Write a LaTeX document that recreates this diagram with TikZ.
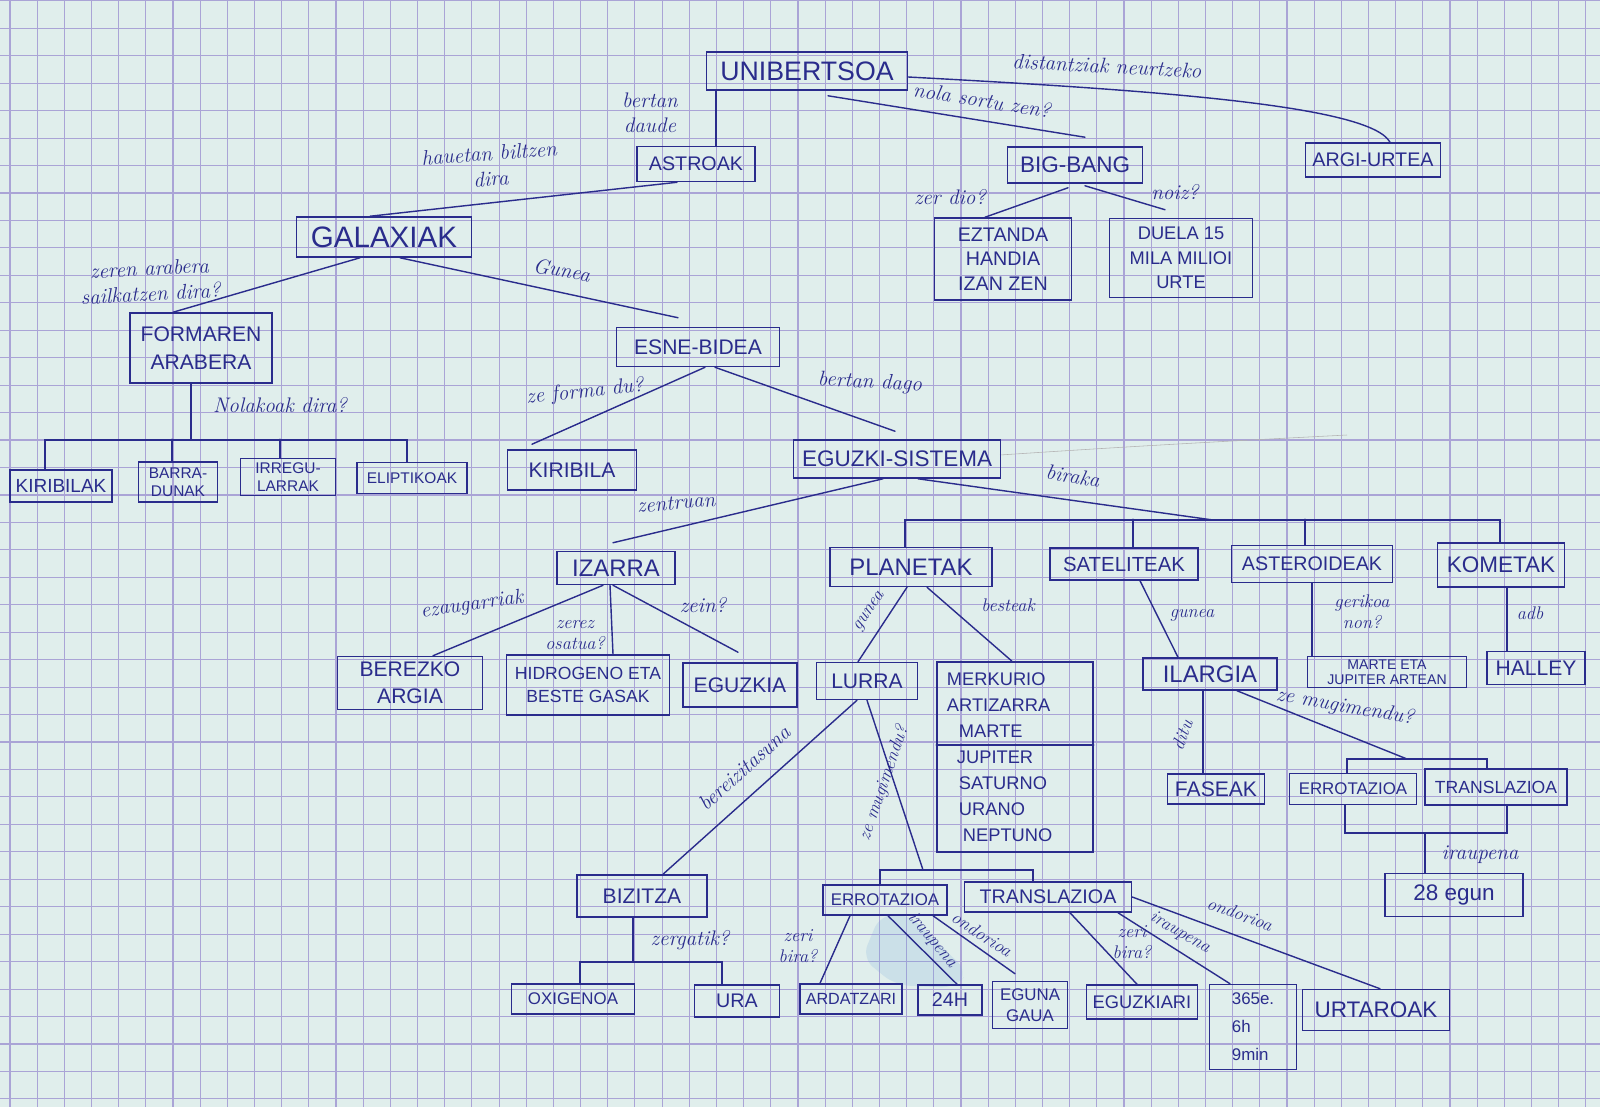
\documentclass[tikz,border=0pt]{standalone}
\usepackage{fontspec}
\newfontfamily\handfont{Liberation Sans}
\usetikzlibrary{calc}
\definecolor{ink}{RGB}{42,44,140}
\definecolor{paper}{RGB}{224,238,236}
\definecolor{gridc}{RGB}{170,164,214}
\definecolor{smear}{RGB}{110,165,215}
\tikzset{
  box/.style={draw=ink, line width=1.1pt, text=ink, inner sep=1pt, align=center},
  dims/.style 2 args={minimum width=#1*0.025cm, minimum height=#2*0.025cm},
  fs/.style 2 args={font={\handfont\fontsize{#1}{#2}\selectfont}},
  lbl/.style={text=ink, inner sep=0pt, align=center, font={\itshape\fontsize{15}{18}\selectfont}},
  lsmall/.style={font={\itshape\fontsize{13}{15}\selectfont}},
  conn/.style={draw=ink, line width=1pt, line cap=round},
  gridline/.style={draw=gridc, line width=0.8pt}
}
\begin{document}
\begin{tikzpicture}[x=0.025cm, y=-0.025cm]
\fill[paper] (0,0) rectangle (1600,1107);
\useasboundingbox (0,0) rectangle (1600,1107);
\foreach \i in {0,...,58} \draw[gridline] ({10+27.17*\i},0) -- ({10+27.17*\i},1107);
\foreach \j in {-1,...,39} \draw[gridline] (0,{28.3+27.45*\j}) -- (1600,{28.3+27.45*\j});

\fill[smear, opacity=0.18, rounded corners=10pt] (880,915) -- (908,914) -- (968,972) -- (955,988) -- (895,985) -- (862,958) -- cycle;
\draw[gray!60, line width=0.4pt] (1000,455) .. controls (1150,445) and (1250,440) .. (1347,435);

\node[box, dims={201}{38}, fs={19}{22}] (uni) at (807,71) {UNIBERTSOA};
\node[box, dims={118}{35}, fs={14}{17}] (astro) at (696,164) {ASTROAK};
\node[box, dims={135}{36}, fs={16}{19}] (bigbang) at (1075,165) {BIG-BANG};
\node[box, dims={135}{34}, fs={14}{17}] (argi) at (1373,160) {ARGI-URTEA};
\node[box, dims={137}{82}, fs={14}{17.6}] (eztanda) at (1003,259) {EZTANDA\\HANDIA\\IZAN ZEN};
\node[box, dims={143}{79}, fs={13}{17.6}] (duela) at (1181,258) {DUELA 15\\MILA MILIOI\\URTE};
\node[box, dims={175}{40}, fs={21}{24}] (galax) at (384,237) {GALAXIAK};
\node[box, dims={142}{70}, fs={15}{20}] (forma) at (201,348) {FORMAREN\\ARABERA};
\node[box, dims={163}{39}, fs={15}{18}] (esne) at (698,347) {ESNE-BIDEA};
\node[box, dims={102}{32}, fs={13.5}{16}] (kiribilak) at (61,486) {KIRIBILAK};
\node[box, dims={79}{40}, fs={11}{13}] (barra) at (178,482) {BARRA-\\DUNAK};
\node[box, dims={95}{37}, fs={11}{12.5}] (irregu) at (288,477) {IRREGU-\\LARRAK};
\node[box, dims={110}{31}, fs={11}{13}] (eliptik) at (412,478) {ELIPTIKOAK};
\node[box, dims={129}{40}, fs={15}{18}] (kiribila) at (572,470) {KIRIBILA};
\node[box, dims={207}{38}, fs={16}{19}] (eguzkis) at (897,459) {EGUZKI-SISTEMA};
\node[box, dims={118}{33}, fs={17}{20}] (izarra) at (616,568) {IZARRA};
\node[box, dims={162}{39}, fs={17}{20}] (planetak) at (911,567) {PLANETAK};
\node[box, dims={148}{32}, fs={14.5}{17}] (satelit) at (1124,564) {SATELITEAK};
\node[box, dims={161}{37}, fs={14}{17}] (asteroid) at (1312,564) {ASTEROIDEAK};
\node[box, dims={127}{44}, fs={16}{19}] (kometak) at (1501,565) {KOMETAK};
\node[box, dims={145}{53}, fs={15}{19}] (berezko) at (410,683) {BEREZKO\\ARGIA};
\node[box, dims={163}{60}, fs={12.5}{16}] (hidrog) at (588,685) {HIDROGENO ETA\\BESTE GASAK};
\node[box, dims={114}{44}, fs={15}{18}] (eguzkia) at (740,685) {EGUZKIA};
\node[box, dims={101}{37}, fs={15}{18}] (lurra) at (867,681) {LURRA};
\node[box, dims={156}{190}, fs={13}{18.5}, text width=3.4cm, align=left] (planlist) at (1015,757) {MERKURIO\\ARTIZARRA\\\hspace*{0.3cm}MARTE\\\hspace*{0.25cm}JUPITER\\\hspace*{0.3cm}SATURNO\\\hspace*{0.3cm}URANO\\\hspace*{0.4cm}NEPTUNO};
\node[box, dims={134}{32}, fs={17}{20}] (ilargia) at (1210,674) {ILARGIA};
\node[box, dims={159}{31}, fs={10}{10.5}] (marte) at (1387,672) {MARTE ETA\\JUPITER ARTEAN};
\node[box, dims={98}{33}, fs={15}{18}] (halley) at (1536,668) {HALLEY};
\node[box, dims={97}{30}, fs={15}{18}] (faseak) at (1216,789) {FASEAK};
\node[box, dims={127}{31}, fs={12}{14}] (errot2) at (1353,789) {ERROTAZIOA};
\node[box, dims={142}{36}, fs={12.5}{15}] (transl2) at (1496,787) {TRANSLAZIOA};
\node[box, dims={138}{43}, fs={16}{19}] (egun28) at (1454,895) {28 egun};
\node[box, dims={130}{42}, fs={15}{18}] (bizitza) at (642,896) {BIZITZA};
\node[box, dims={123}{30}, fs={12}{14}] (oxig) at (573,999) {OXIGENOA};
\node[box, dims={85}{32}, fs={14}{17}] (ura) at (737,1001) {URA};
\node[box, dims={124}{30}, fs={12}{14}] (errot) at (885,900) {ERROTAZIOA};
\node[box, dims={167}{30}, fs={14}{17}] (transl) at (1048,897) {TRANSLAZIOA};
\node[box, dims={102}{30}, fs={11.5}{14}] (ardatz) at (851,999) {ARDATZARI};
\node[box, dims={64}{30}, fs={14}{17}] (h24) at (950,1000) {24H};
\node[box, dims={75}{47}, fs={12}{15}] (egunag) at (1030,1005) {EGUNA\\GAUA};
\node[box, dims={111}{34}, fs={13}{16}] (eguzkiari) at (1142,1002) {EGUZKIARI};
\node[box, dims={87}{85}, fs={12}{20}, align=left] (urtea) at (1253,1027) {365e.\\6h\\9min};
\node[box, dims={147}{41}, fs={16}{19}] (urtaro) at (1376,1010) {URTAROAK};

\coordinate (fbar) at (191,440);
\coordinate (sbar) at (1213,520);
\coordinate (bbar) at (633,962);
\coordinate (mbar) at (923,870);
\coordinate (ibar) at (1407,759);
\coordinate (ibot) at (1425,833);

\draw[conn] ($(uni.south)+(-91,0)$) -- ($(astro.north)+(20,0)$);
\draw[conn] ($(uni.east)+(0,6)$) .. controls (1150,90) and (1370,105) .. ($(argi.north)+(17,0)$);
\draw[conn] ($(uni.south)+(21,5)$) -- ($(bigbang.north)+(10,-9)$);
\draw[conn] ($(bigbang.south)+(-7,4)$) -- ($(eztanda.north)+(-18,0)$);
\draw[conn] ($(bigbang.south)+(10,2)$) -- ($(duela.north)+(-16,-8)$);
\draw[conn] ($(astro.south)+(-19,0)$) -- ($(galax.north)+(-14,0)$);
\draw[conn] ($(galax.south)+(16,0)$) -- ($(esne.north)+(-20,-9)$);
\draw[conn] ($(galax.south)+(-24,0)$) -- ($(forma.north)+(-28,0)$);
\draw[conn] ($(forma.south)+(-10,0)$) -- (fbar);
\draw[conn] ($(kiribilak.north)+(-16,0)$) |- (fbar) -| ($(eliptik.north)+(-5,0)$);
\draw[conn] ($(barra.north)+(-6,0)$) -- ++(0,-22);
\draw[conn] ($(irregu.north)+(-8,0)$) -- ++(0,-18.5);
\draw[conn] ($(esne.south)+(7,0)$) -- ($(kiribila.north)+(-40,-5)$);
\draw[conn] ($(esne.south)+(17,0)$) -- ($(eguzkis.north)+(-2,-8)$);
\draw[conn] ($(eguzkis.south)+(-14,0)$) -- ($(izarra.north)+(-3,-8)$);
\draw[conn] ($(eguzkis.south)+(21,0)$) -- (sbar);
\draw[conn] ($(planetak.north)+(-6,0)$) |- (sbar) -| ($(kometak.north)+(-1,0)$);
\draw[conn] ($(satelit.north)+(9,0)$) -- ++(0,-28);
\draw[conn] ($(asteroid.north)+(-7,0)$) -- ++(0,-25.5);
\draw[conn] ($(izarra.south)+(-13,0)$) -- ($(berezko.north)+(23,0)$);
\draw[conn] ($(izarra.south)+(-6,0)$) -- ($(hidrog.north)+(25,0)$);
\draw[conn] ($(izarra.south)+(-3,0)$) -- ($(eguzkia.north)+(-2,-10)$);
\draw[conn] ($(planetak.south)+(-4,0)$) -- ($(lurra.north)+(-9,0)$);
\draw[conn] ($(planetak.south)+(16,0)$) -- ($(planlist.north)+(-3,0)$);
\draw[conn] (planlist.west |- 0,745) -- (planlist.east |- 0,745);
\draw[conn] ($(satelit.south)+(16,0)$) -- ($(ilargia.north)+(-32,0)$);
\draw[conn] (asteroid.south) -- ($(marte.north)+(-75,0)$);
\draw[conn] ($(kometak.south)+(6,0)$) -- ($(halley.north)+(-29,0)$);
\draw[conn] ($(lurra.south)+(-10,0)$) -- ($(bizitza.north)+(21,0)$);
\draw[conn] ($(bizitza.south)+(-9,0)$) -- (bbar);
\draw[conn] ($(oxig.north)+(7,0)$) |- (bbar) -| ($(ura.north)+(-15,0)$);
\draw[conn] (lurra.south) -- (mbar);
\draw[conn] ($(errot.north)+(-5,0)$) |- (mbar) -| ($(transl.north)+(-15,0)$);
\draw[conn] ($(errot.south)+(-35,0)$) -- ($(ardatz.north)+(-31,0)$);
\draw[conn] ($(errot.south)+(3,0)$) -- ($(h24.north)+(7,0)$);
\draw[conn] ($(errot.south)+(48,0)$) -- ($(egunag.north)+(-15,-7)$);
\draw[conn] ($(transl.south)+(22,0)$) -- ($(eguzkiari.north)+(-5,0)$);
\draw[conn] ($(transl.south)+(70,0)$) -- ($(urtea.north)+(-23,0)$);
\draw[conn] (transl.east) -- ($(urtaro.north)+(4,0)$);
\draw[conn] ($(ilargia.south)+(-7,0)$) -- ($(faseak.north)+(-13,0)$);
\draw[conn] ($(ilargia.south)+(27,0)$) -- (ibar);
\draw[conn] ($(errot2.north)+(-6,0)$) |- (ibar) -| ($(transl2.north)+(-9,0)$);
\draw[conn] ($(errot2.south)+(-8,0)$) |- (ibot) -| ($(transl2.south)+(11,0)$);
\draw[conn] (ibot) -- ($(egun28.north)+(-29,0)$);

\node[lbl] (lbertan) at (650,113) {bertan\\daude};
\node[lbl, rotate=-3] (ldistan) at (1107,66) {distantziak neurtzeko};
\node[lbl, rotate=-9] (lnola) at (982,100) {nola sortu zen?};
\node[lbl] (lzerdio) at (950,197) {zer dio?};
\node[lbl] (lnoiz) at (1175,192) {noiz?};
\node[lbl, rotate=4] (lhauetan) at (490,166) {hauetan biltzen\\dira};
\node[lbl, rotate=-10] (lgunea) at (562,270) {Gunea};
\node[lbl, rotate=3] (lzeren) at (150,281) {zeren arabera\\sailkatzen dira?};
\node[lbl] (lnolakoak) at (280,405) {Nolakoak dira?};
\node[lbl, rotate=6] (lforma) at (585,392) {ze forma du?};
\node[lbl, rotate=-3] (ldago) at (870,383) {bertan dago};
\node[lbl, rotate=5] (lzentruan) at (676,503) {zentruan};
\node[lbl, rotate=-10] (lbiraka) at (1073,476) {biraka};
\node[lbl, rotate=8] (lezaug) at (472,605) {ezaugarriak};
\node[lbl, lsmall] (lzerez) at (575,635) {zerez\\osatua?};
\node[lbl] (lzein) at (703,605) {zein?};
\node[lbl, lsmall, rotate=56] (lgunea2) at (870,612) {gunea};
\node[lbl, lsmall] (lbesteak) at (1008,605) {besteak};
\node[lbl, lsmall] (lgunea3) at (1192,615) {gunea};
\node[lbl, lsmall] (lgerikoa) at (1362,612) {gerikoa\\non?};
\node[lbl, lsmall] (ladb) at (1530,613) {adb};
\node[lbl, rotate=42] (lbereiz) at (744,768) {bereizitasuna};
\node[lbl] (lzergatik) at (690,940) {zergatik?};
\node[lbl, lsmall, rotate=71] (lmugi) at (884,783) {ze mugimendu?};
\node[lbl, lsmall] (lzeri) at (798,946) {zeri\\bira?};
\node[lbl, lsmall, rotate=-50] (liraup) at (932,940) {iraupena};
\node[lbl, lsmall, rotate=-33] (londor) at (982,934) {ondorioa};
\node[lbl, lsmall] (lzeri2) at (1132,942) {zeri\\bira?};
\node[lbl, lsmall, rotate=-30] (liraup2) at (1180,933) {iraupena};
\node[lbl, lsmall, rotate=-20] (londor2) at (1240,914) {ondorioa};
\node[lbl, lsmall, rotate=70] (lditu) at (1182,735) {ditu};
\node[lbl, rotate=-10] (lmugi2) at (1345,707) {ze mugimendu?};
\node[lbl] (liraup3) at (1480,855) {iraupena};
\end{tikzpicture}
\end{document}
